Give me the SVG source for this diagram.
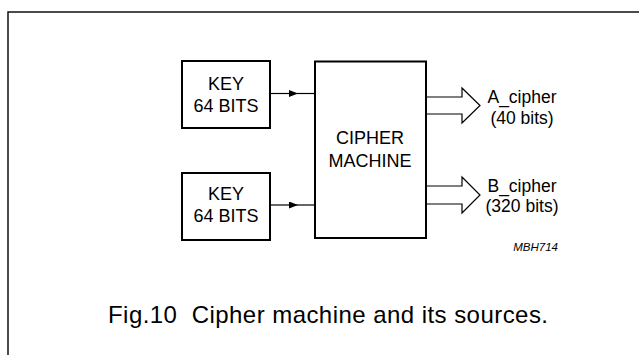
<svg xmlns="http://www.w3.org/2000/svg" width="639" height="355" viewBox="0 0 639 355">
<style>
.box{fill:#fff;stroke:#000;stroke-width:2}
.t{font-family:"Liberation Sans",Arial,sans-serif;font-size:18px;fill:#000;text-anchor:middle}
.lab{font-family:"Liberation Sans",Arial,sans-serif;font-size:17.5px;fill:#000;text-anchor:middle}
.ln{fill:none;stroke:#000;stroke-width:1.2}
.hollow{fill:#fff;stroke:#000;stroke-width:1.2;stroke-linejoin:miter}
</style>
<defs>
<marker id="ah" viewBox="0 0 9 7" refX="9" refY="3.5" markerWidth="9" markerHeight="7" markerUnits="userSpaceOnUse" orient="auto">
<path d="M0,0 L9,3.5 L0,7 Z" fill="#000"/>
</marker>
</defs>
<rect width="639" height="355" fill="#fff"/>
<path d="M8,360 L8,12 L645,12" fill="none" stroke="#111" stroke-width="1.5"/>
<g id="connectors">
<line class="ln" x1="270" y1="93.5" x2="298" y2="93.5" marker-end="url(#ah)"/>
<line class="ln" x1="298" y1="93.5" x2="314" y2="93.5"/>
<line class="ln" x1="270" y1="205" x2="298" y2="205" marker-end="url(#ah)"/>
<line class="ln" x1="298" y1="205" x2="314" y2="205"/>
<polyline class="hollow" points="426,97 462,97 462,88 480,105.5 462,123 462,114 426,114"/>
<polyline class="hollow" points="426,186 462,186 462,177 480,195 462,213 462,204 426,204"/>
</g>
<g id="key1">
<rect class="box" x="182" y="61" width="88" height="67"/>
<text class="t" x="226" y="90">KEY</text>
<text class="t" x="226" y="112">64 BITS</text>
</g>
<g id="key2">
<rect class="box" x="182" y="173" width="88" height="67"/>
<text class="t" x="226" y="200">KEY</text>
<text class="t" x="226" y="222">64 BITS</text>
</g>
<g id="cipher">
<rect class="box" x="315" y="61.5" width="111" height="176.5"/>
<text class="t" x="370" y="144">CIPHER</text>
<text class="t" x="370" y="166.5">MACHINE</text>
</g>
<g id="a_cipher">
<text class="lab" x="522" y="103">A_cipher</text>
<text class="lab" x="522" y="124">(40 bits)</text>
</g>
<g id="b_cipher">
<text class="lab" x="522" y="192">B_cipher</text>
<text class="lab" x="522" y="212">(320 bits)</text>
</g>
<text x="558" y="251" font-family="Liberation Sans,Arial,sans-serif" font-size="11.5" font-style="italic" text-anchor="end">MBH714</text>
<text x="108" y="322.5" font-family="Liberation Sans,Arial,sans-serif" font-size="24" xml:space="preserve" textLength="440" lengthAdjust="spacing">Fig.10  Cipher machine and its sources.</text>
</svg>
